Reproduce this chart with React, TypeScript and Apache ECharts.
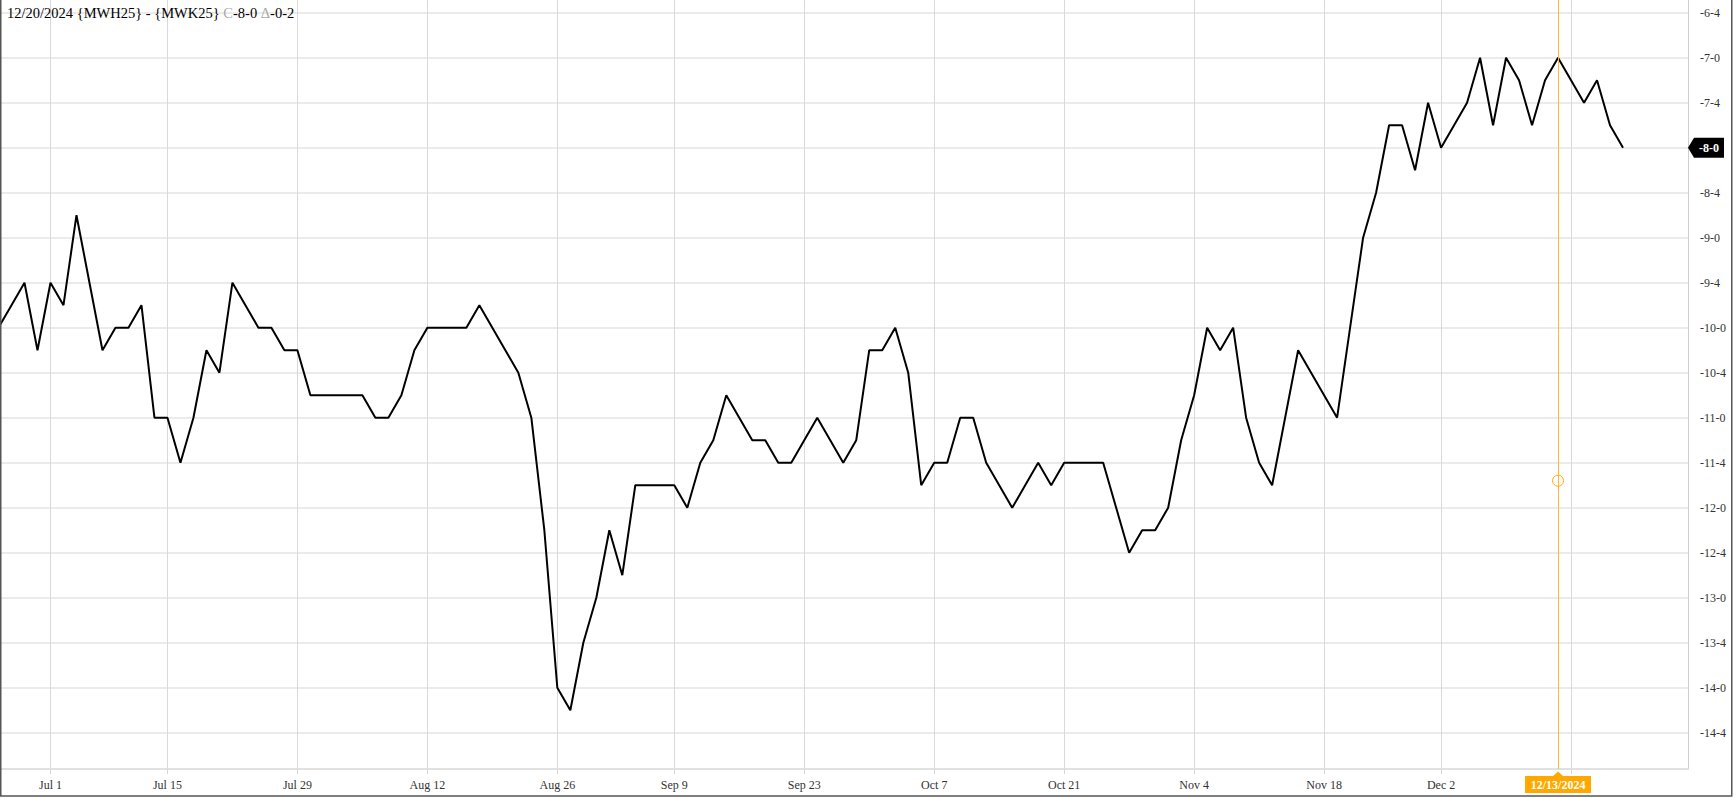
import { useEffect, useRef } from "react";
import * as echarts from "echarts";

// Trading days (2024, MM-DD); the last five are empty slots at the right of the axis
const tradingDays: string[] = [
  "06-25", "06-26", "06-27", "06-28",
  "07-01", "07-02", "07-03", "07-05", "07-08", "07-09", "07-10", "07-11", "07-12",
  "07-15", "07-16", "07-17", "07-18", "07-19", "07-22", "07-23", "07-24", "07-25", "07-26",
  "07-29", "07-30", "07-31", "08-01", "08-02", "08-05", "08-06", "08-07", "08-08", "08-09",
  "08-12", "08-13", "08-14", "08-15", "08-16", "08-19", "08-20", "08-21", "08-22", "08-23",
  "08-26", "08-27", "08-28", "08-29", "08-30", "09-03", "09-04", "09-05", "09-06",
  "09-09", "09-10", "09-11", "09-12", "09-13", "09-16", "09-17", "09-18", "09-19", "09-20",
  "09-23", "09-24", "09-25", "09-26", "09-27", "09-30", "10-01", "10-02", "10-03", "10-04",
  "10-07", "10-08", "10-09", "10-10", "10-11", "10-14", "10-15", "10-16", "10-17", "10-18",
  "10-21", "10-22", "10-23", "10-24", "10-25", "10-28", "10-29", "10-30", "10-31", "11-01",
  "11-04", "11-05", "11-06", "11-07", "11-08", "11-11", "11-12", "11-13", "11-14", "11-15",
  "11-18", "11-19", "11-20", "11-21", "11-22", "11-25", "11-26", "11-27", "11-29",
  "12-02", "12-03", "12-04", "12-05", "12-06", "12-09", "12-10", "12-11", "12-12", "12-13",
  "12-16", "12-17", "12-18", "12-19", "12-20",
  "12-23", "12-24", "12-26", "12-27", "12-30",
];

// MWH25 - MWK25 spread (cents), one value per trading day
const spread: number[] = [
  -10, -9.75, -9.5, -10.25,
  -9.5, -9.75, -8.75, -9.5, -10.25, -10, -10, -9.75, -11,
  -11, -11.5, -11, -10.25, -10.5, -9.5, -9.75, -10, -10, -10.25,
  -10.25, -10.75, -10.75, -10.75, -10.75, -10.75, -11, -11, -10.75, -10.25,
  -10, -10, -10, -10, -9.75, -10, -10.25, -10.5, -11, -12.25,
  -14, -14.25, -13.5, -13, -12.25, -12.75, -11.75, -11.75, -11.75,
  -11.75, -12, -11.5, -11.25, -10.75, -11, -11.25, -11.25, -11.5, -11.5,
  -11.25, -11, -11.25, -11.5, -11.25, -10.25, -10.25, -10, -10.5, -11.75,
  -11.5, -11.5, -11, -11, -11.5, -11.75, -12, -11.75, -11.5, -11.75,
  -11.5, -11.5, -11.5, -11.5, -12, -12.5, -12.25, -12.25, -12, -11.25,
  -10.75, -10, -10.25, -10, -11, -11.5, -11.75, -11, -10.25, -10.5,
  -10.75, -11, -10, -9, -8.5, -7.75, -7.75, -8.25, -7.5,
  -8, -7.75, -7.5, -7, -7.75, -7, -7.25, -7.75, -7.25, -7,
  -7.25, -7.5, -7.25, -7.75, -8,
];

// Gridline / tick days; the label of the last one sits under the cursor label
const tickDays: string[] = [
  "07-01", "07-15", "07-29", "08-12", "08-26", "09-09", "09-23",
  "10-07", "10-21", "11-04", "11-18", "12-02", "12-16",
];
const hiddenLabelDays: string[] = ["12-16"];

const yTicks: number[] = [
  -14.5, -14, -13.5, -13, -12.5, -12, -11.5, -11, -10.5, -10,
  -9.5, -9, -8.5, -8, -7.5, -7, -6.5,
];

const yMin = -14.903;
const yMax = -6.359;

const asOfDate = "12/20/2024";
const legA = "{MWH25}";
const legB = "{MWK25}";
const lastValue = -8;
const changeValue = -0.25;

const crossDay = "12-13";
const crossLabel = "12/13/2024";
const crossValue = -11.7;

const MONTHS = ["Jan", "Feb", "Mar", "Apr", "May", "Jun", "Jul", "Aug", "Sep", "Oct", "Nov", "Dec"];
const FONT = "Liberation Serif";
const ORANGE = "#FFA800";
const LINE_ORANGE = "#FFB838";

function dayLabel(d: string): string {
  const [m, dd] = d.split("-");
  return MONTHS[Number(m) - 1] + " " + Number(dd);
}

function fmt8(v: number): string {
  const neg = v < -1e-9;
  const a = Math.abs(v);
  let whole = Math.floor(a + 1e-6);
  let e = Math.round((a - whole) * 8);
  if (e === 8) {
    whole += 1;
    e = 0;
  }
  return (neg ? "-" : "") + whole + "-" + e;
}

const W = 1736;
const H = 798;
const GRID_RIGHT = 48;
const GRID_BOTTOM = 29;

export default function App() {
  const ref = useRef<HTMLDivElement>(null);

  useEffect(() => {
    if (!ref.current) return;
    const chart = echarts.init(ref.current, undefined, { renderer: "svg" });
    const tickSet = new Set(tickDays);
    const hiddenSet = new Set(hiddenLabelDays);
    const isTick = (_i: number, v: string) => tickSet.has(v);
    const isLabel = (_i: number, v: string) => tickSet.has(v) && !hiddenSet.has(v);

    chart.setOption({
      animation: false,
      grid: {
        left: -1.5,
        right: GRID_RIGHT,
        top: 0,
        bottom: GRID_BOTTOM,
        containLabel: false,
        outerBoundsMode: "none",
      },
      xAxis: {
        type: "category",
        data: tradingDays,
        boundaryGap: false,
        axisLine: { show: true, onZero: false, lineStyle: { color: "#e1e1e1", width: 2 } },
        axisTick: { show: true, interval: isTick, length: 5, lineStyle: { color: "#d4d4d4", width: 1 } },
        axisLabel: {
          interval: isLabel,
          formatter: dayLabel,
          color: "#333",
          fontFamily: FONT,
          fontSize: 12,
          margin: 10,
        },
        splitLine: { show: true, interval: isTick, lineStyle: { color: "#d9d9d9", width: 1 } },
      },
      yAxis: {
        type: "value",
        position: "right",
        min: yMin,
        max: yMax,
        axisLine: { show: true, lineStyle: { color: "#cfcfcf", width: 1 } },
        axisTick: { show: false, customValues: yTicks },
        axisLabel: {
          customValues: yTicks,
          formatter: fmt8,
          color: "#333",
          fontFamily: FONT,
          fontSize: 12,
          margin: 12,
          align: "left",
        },
        splitLine: { show: true, lineStyle: { color: "#e4e4e4", width: 1.5 } },
      },
      series: [
        {
          type: "line",
          data: spread,
          symbol: "none",
          showSymbol: false,
          lineStyle: { color: "#000", width: 2 },
          silent: true,
          markLine: {
            silent: true,
            symbol: ["none", "none"],
            label: { show: false },
            lineStyle: { color: LINE_ORANGE, width: 1, type: "solid" },
            data: [{ xAxis: crossDay }],
          },
          markPoint: {
            silent: true,
            symbol: "circle",
            symbolSize: 11,
            label: { show: false },
            itemStyle: { color: "rgba(255,255,255,0)", borderColor: ORANGE, borderWidth: 1 },
            data: [{ coord: [crossDay, crossValue] }],
          },
        },
      ],
    });

    const cx = chart.convertToPixel({ xAxisIndex: 0 }, crossDay) as number;
    const ly = chart.convertToPixel({ yAxisIndex: 0 }, lastValue) as number;
    const axisX = W - GRID_RIGHT;
    const axisY = H - GRID_BOTTOM;

    chart.setOption({
      graphic: [
        {
          type: "text",
          z: 100,
          x: 7,
          y: 5,
          style: {
            text: `${asOfDate} ${legA} - ${legB} {g|C}${fmt8(lastValue)} {g|Δ}${fmt8(changeValue)}`,
            fontFamily: FONT,
            fontSize: 14.5,
            fill: "#000",
            rich: { g: { fontFamily: FONT, fontSize: 14.5, fill: "#a8a8a8" } },
          },
        },
        {
          type: "polygon",
          z: 100,
          shape: {
            points: [
              [cx - 5, axisY + 7],
              [cx, axisY + 2.5],
              [cx + 5, axisY + 7],
            ],
          },
          style: { fill: ORANGE },
        },
        {
          type: "rect",
          z: 100,
          shape: { x: cx - 33, y: axisY + 7, width: 66, height: 17 },
          style: { fill: ORANGE },
        },
        {
          type: "text",
          z: 101,
          x: cx,
          y: axisY + 15.5,
          style: {
            text: crossLabel,
            fontFamily: FONT,
            fontSize: 12,
            fontWeight: "bold",
            fill: "#fff",
            align: "center",
            verticalAlign: "middle",
          },
        },
        {
          type: "polygon",
          z: 100,
          shape: {
            points: [
              [axisX, ly],
              [axisX + 6, ly - 10],
              [axisX + 36, ly - 10],
              [axisX + 36, ly + 10],
              [axisX + 6, ly + 10],
            ],
          },
          style: { fill: "#000" },
        },
        {
          type: "text",
          z: 101,
          x: axisX + 21,
          y: ly,
          style: {
            text: fmt8(lastValue),
            fontFamily: FONT,
            fontSize: 12,
            fontWeight: "bold",
            fill: "#fff",
            align: "center",
            verticalAlign: "middle",
          },
        },
        {
          type: "rect",
          z: 100,
          shape: { x: 0.75, y: -10, width: 1731, height: 806 },
          style: { fill: "none", stroke: "#555", lineWidth: 1.5 },
        },
      ],
    });

    return () => chart.dispose();
  }, []);

  return (
    <div
      ref={ref}
      style={{ position: "absolute", left: 0, top: 0, width: W, height: H, background: "#fff" }}
    />
  );
}
